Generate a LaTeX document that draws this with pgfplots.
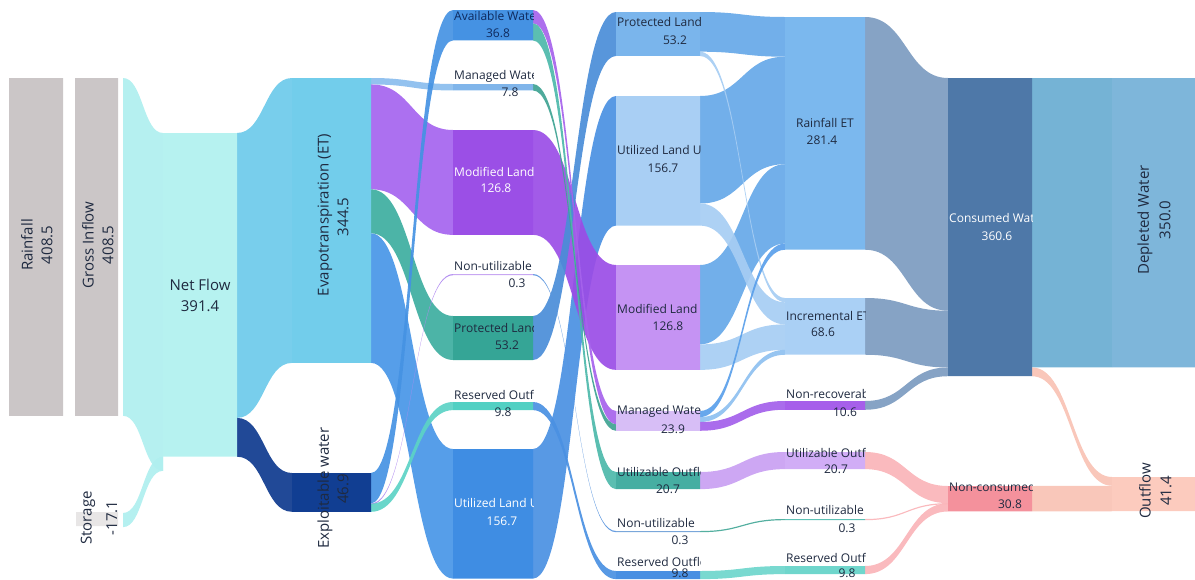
\documentclass[border=0pt]{standalone}
\usepackage{pgfplots}
\pgfplotsset{compat=1.18}
\usepackage{fontspec}
\setmainfont{Open Sans}

\definecolor{txt}{HTML}{1F2A40}
\definecolor{txtnavy}{HTML}{0E2A5E}
% nodes
\definecolor{ngray}{HTML}{CBC6C7}
\definecolor{nstor}{HTML}{E8E6E6}
\definecolor{nnet}{HTML}{B6F2F0}
\definecolor{net}{HTML}{72CDEB}
\definecolor{nex}{HTML}{113E92}
\definecolor{navail}{HTML}{4592E3}
\definecolor{nman}{HTML}{80B5EA}
\definecolor{nmod}{HTML}{9B4FE6}
\definecolor{nnu}{HTML}{C8A7F2}
\definecolor{nprot}{HTML}{35A596}
\definecolor{nres}{HTML}{52D0C3}
\definecolor{nutil}{HTML}{3F8DE3}
\definecolor{nprotb}{HTML}{7AB5EC}
\definecolor{nutilb}{HTML}{A9CFF4}
\definecolor{nmodb}{HTML}{C593F3}
\definecolor{nmanb}{HTML}{D7BEF6}
\definecolor{nutlb}{HTML}{46AEA2}
\definecolor{nnub}{HTML}{7AA7DA}
\definecolor{nresb}{HTML}{4A90E2}
\definecolor{nret}{HTML}{7BB8EE}
\definecolor{ninc}{HTML}{AAD0F5}
\definecolor{nnonrec}{HTML}{A65FEA}
\definecolor{nutlc}{HTML}{D1ADF6}
\definecolor{nnuc}{HTML}{5DC2B6}
\definecolor{nresc}{HTML}{6FD6CC}
\definecolor{ncons}{HTML}{4E78A8}
\definecolor{nncons}{HTML}{F4919C}
\definecolor{ndepl}{HTML}{7EB6DA}
\definecolor{nout}{HTML}{FCCBBE}
% bands
\definecolor{bcyan}{HTML}{AFEFEF}
\definecolor{bet}{HTML}{6CCAEA}
\definecolor{bex}{HTML}{0E3A8E}
\definecolor{bman}{HTML}{8ABDEE}
\definecolor{bmod}{HTML}{A564EF}
\definecolor{bprot}{HTML}{3DAE9F}
\definecolor{butil}{HTML}{4896E7}
\definecolor{bavail}{HTML}{4592E3}
\definecolor{bnu}{HTML}{B08AF0}
\definecolor{bres}{HTML}{5CD3C6}
\definecolor{bavman}{HTML}{A663EC}
\definecolor{bavutl}{HTML}{4DB8AA}
\definecolor{bmanman}{HTML}{3FA393}
\definecolor{bmodb}{HTML}{9A4DE6}
\definecolor{bnub}{HTML}{5A95DE}
\definecolor{bprotb}{HTML}{4A8DD8}
\definecolor{bresb}{HTML}{4A90E2}
\definecolor{butilb}{HTML}{4A90E2}
\definecolor{bret}{HTML}{66A8E8}
\definecolor{binc}{HTML}{A6CDF3}
\definecolor{bmanret}{HTML}{5A9FEA}
\definecolor{bmaninc}{HTML}{8EC0F0}
\definecolor{bnonrec}{HTML}{A35FEA}
\definecolor{butlc}{HTML}{C9A0F2}
\definecolor{bnuc}{HTML}{45A898}
\definecolor{bresc}{HTML}{6ED6CC}
\definecolor{bcons}{HTML}{7C9BC0}
\definecolor{bncons}{HTML}{FAB4B8}
\definecolor{bdepl}{HTML}{69ACD1}
\definecolor{bout}{HTML}{F9C2B4}

% px per unit of water
\newcommand{\kk}{0.827}
% \flow{x0}{ytop0}{x1}{ytop1}{value}{colour}
\newcommand{\flow}[6]{%
  \pgfmathsetmacro\fth{max(#5*\kk,1.2)}%
  \pgfmathsetmacro\fa{#2+\fth}%
  \pgfmathsetmacro\fb{#4+\fth}%
  \pgfmathsetmacro\fm{(#1+#3)/2}%
  \edef\doflow{\noexpand\fill[#6,fill opacity=0.92] (axis cs:#1,#2) .. controls (axis cs:\fm,#2) and (axis cs:\fm,#4) .. (axis cs:#3,#4) -- (axis cs:#3,\fb) .. controls (axis cs:\fm,\fb) and (axis cs:\fm,\fa) .. (axis cs:#1,\fa) -- cycle;}%
  \doflow}
% \snode{x0}{x1}{ytop}{value}{colour}
\newcommand{\snode}[5]{%
  \pgfmathsetmacro\na{#3+max(#4*\kk,1.2)}%
  \edef\donode{\noexpand\addplot[fill=#5,draw=none,forget plot] coordinates {(#1,#3) (#2,#3) (#2,\na) (#1,\na) (#1,#3)};}%
  \donode}

\tikzset{big/.style={font=\fontsize{15}{18}\selectfont, text=txt, inner sep=0pt},
         sm/.style={font=\fontsize{12}{14}\selectfont, text=txt, inner sep=0pt}}

\begin{document}
\begin{tikzpicture}
\begin{axis}[name=ax, width=1195pt, height=579pt, scale only axis,
  xmin=0, xmax=1195, ymin=0, ymax=579, y dir=reverse, hide axis, clip=false]
% ---- flows ----
\flow{123}{78}{163}{133}{408.5}{bcyan}
\flow{163}{456.7}{123}{513}{17.1}{bcyan}
\flow{237}{133}{292}{78}{344.5}{bet}
\flow{237}{417.9}{292}{473}{46.9}{bex}
% ET / Exploitable -> column 5
\flow{371}{78}{453}{84}{7.8}{bman}
\flow{371}{84.45}{453}{130}{126.8}{bmod}
\flow{371}{189.31}{453}{316}{53.2}{bprot}
\flow{371}{233.31}{453}{449}{156.7}{butil}
\flow{371}{473}{453}{10}{36.8}{bavail}
\flow{371}{503.43}{453}{274}{0.3}{bnu}
\flow{371}{503.68}{453}{402}{9.8}{bres}
% column 5 -> column 6
\flow{533}{449}{616}{96}{156.7}{butilb}
\flow{533}{130}{616}{265}{126.8}{bmodb}
\flow{533}{316}{616}{12}{53.2}{bprotb}
\flow{533}{10}{616}{411}{16.1}{bavman}
\flow{533}{23.31}{616}{472}{20.7}{bavutl}
\flow{533}{84}{616}{424.31}{7.8}{bmanman}
\flow{533}{274}{616}{531}{0.3}{bnub}
\flow{533}{402}{616}{571}{9.8}{bresb}
% column 6 -> column 7
\flow{700}{12}{785}{17}{48.0}{bret}
\flow{700}{96}{785}{56.70}{130.0}{bret}
\flow{700}{265}{785}{164.21}{96.0}{bret}
\flow{700}{51.70}{785}{298}{5.2}{binc}
\flow{700}{203.51}{785}{302.30}{26.7}{binc}
\flow{700}{344.39}{785}{324.38}{30.8}{binc}
\flow{700}{411}{785}{243.60}{7.4}{bmanret}
\flow{700}{417.12}{785}{349.85}{5.9}{bmaninc}
\flow{700}{422.0}{785}{401}{10.6}{bnonrec}
\flow{700}{472}{785}{452}{20.7}{butlc}
\flow{700}{531}{785}{519}{0.3}{bnuc}
\flow{700}{571}{785}{566}{9.8}{bresc}
% column 7 -> column 8
\flow{865}{17}{948}{78}{281.4}{bcons}
\flow{865}{298}{948}{310.72}{68.6}{bcons}
\flow{865}{401}{948}{367.45}{10.6}{bcons}
\flow{865}{452}{948}{486}{20.7}{bncons}
\flow{865}{519}{948}{503.12}{0.3}{bncons}
\flow{865}{566}{948}{503.37}{9.8}{bncons}
% column 8 -> column 9
\flow{1032}{78}{1112}{78}{350.0}{bdepl}
\flow{1032}{367.45}{1112}{477}{10.6}{bout}
\flow{1032}{486}{1112}{485.77}{30.8}{bout}
% ---- nodes ----
\snode{9}{63}{78}{408.5}{ngray}
\snode{75}{118}{78}{408.5}{ngray}
\snode{76}{118}{512}{17.1}{nstor}
\snode{163}{237}{133}{391.4}{nnet}
\snode{292}{371}{78}{344.5}{net}
\snode{292}{371}{473}{46.9}{nex}
\snode{453}{533}{10}{36.8}{navail}
\snode{453}{533}{84}{7.8}{nman}
\snode{453}{533}{130}{126.8}{nmod}
\snode{453}{533}{274}{0.3}{nnu}
\snode{453}{533}{316}{53.2}{nprot}
\snode{453}{533}{402}{9.8}{nres}
\snode{453}{533}{449}{156.7}{nutil}
\snode{616}{700}{12}{53.2}{nprotb}
\snode{616}{700}{96}{156.7}{nutilb}
\snode{616}{700}{265}{126.8}{nmodb}
\snode{616}{700}{411}{23.9}{nmanb}
\snode{616}{700}{472}{20.7}{nutlb}
\snode{616}{700}{531}{0.3}{nnub}
\snode{616}{700}{571}{9.8}{nresb}
\snode{785}{865}{17}{281.4}{nret}
\snode{785}{865}{298}{68.6}{ninc}
\snode{785}{865}{401}{10.6}{nnonrec}
\snode{785}{865}{452}{20.7}{nutlc}
\snode{785}{865}{519}{0.3}{nnuc}
\snode{785}{865}{566}{9.8}{nresc}
\snode{948}{1032}{78}{360.6}{ncons}
\snode{948}{1032}{486}{30.8}{nncons}
\snode{1112}{1195}{78}{350.0}{ndepl}
\snode{1112}{1195}{477}{41.4}{nout}
\end{axis}

\begin{scope}[shift={(ax.north west)}, x=1pt, y=-1pt]
% rotated / large labels
\node[big, rotate=90] at (27,245) {Rainfall};
\node[big, rotate=90] at (47,245) {408.5};
\node[big, rotate=90] at (88,245) {Gross Inflow};
\node[big, rotate=90] at (108,245) {408.5};
\node[big, rotate=90] at (88,518) {Storage};
\node[big, rotate=90] at (112,518) {-17.1};
\node[big] at (200,285) {Net Flow};
\node[big] at (200,306) {391.4};
\node[big, rotate=90] at (325,215) {Evapotranspiration (ET)};
\node[big, rotate=90] at (343,217) {344.5};
\node[big, rotate=90] at (325,488) {Exploitable water};
\node[big, rotate=90] at (343,489) {46.9};
\node[big, rotate=90] at (1145,220) {Depleted Water};
\node[big, rotate=90] at (1165,220) {350.0};
\node[big, rotate=90] at (1145,491) {Outflow};
\node[big, rotate=90] at (1166,491) {41.4};
% column 5
\begin{scope}
\clip (453,0) rectangle (533,579);
\node[sm, anchor=west, text=txtnavy] at (454,16) {Available Water};
\node[sm, anchor=west] at (454,76) {Managed Water};
\node[sm, anchor=west, text=white] at (454,172) {Modified Land Use};
\node[sm, anchor=west] at (454,266) {Non-utilizable};
\node[sm, anchor=west] at (454,328) {Protected Land Use};
\node[sm, anchor=west] at (454,395) {Reserved Outflows};
\node[sm, anchor=west, text=white] at (454,503) {Utilized Land Use};
\end{scope}
\node[sm, text=txtnavy] at (498,33) {36.8};
\node[sm] at (510,92) {7.8};
\node[sm, text=white] at (496,188) {126.8};
\node[sm] at (517,283) {0.3};
\node[sm] at (507,345) {53.2};
\node[sm] at (503,412) {9.8};
\node[sm, text=white] at (502,521) {156.7};
% column 6
\begin{scope}
\clip (616,0) rectangle (700,579);
\node[sm, anchor=west] at (617,22) {Protected Land Use};
\node[sm, anchor=west] at (617,150) {Utilized Land Use};
\node[sm, anchor=west] at (617,309) {Modified Land};
\node[sm, anchor=west] at (617,411) {Managed Water Use};
\node[sm, anchor=west] at (617,472) {Utilizable Outflow};
\node[sm, anchor=west] at (617,523) {Non-utilizable};
\node[sm, anchor=west] at (617,562) {Reserved Outflow};
\end{scope}
\node[sm] at (675,40) {53.2};
\node[sm] at (663,168) {156.7};
\node[sm] at (668,326) {126.8};
\node[sm] at (673,429) {23.9};
\node[sm] at (668,489) {20.7};
\node[sm] at (680,540) {0.3};
\node[sm] at (680,573) {9.8};
% column 7
\begin{scope}
\clip (785,0) rectangle (865,579);
\node[sm] at (825,123) {Rainfall ET};
\node[sm, anchor=west] at (786,316) {Incremental ET};
\node[sm, anchor=west] at (786,394) {Non-recoverable};
\node[sm, anchor=west] at (786,453) {Utilizable Outflow};
\node[sm, anchor=west] at (786,510) {Non-utilizable};
\node[sm, anchor=west] at (786,558) {Reserved Outflow};
\end{scope}
\node[sm] at (822,140) {281.4};
\node[sm] at (823,332) {68.6};
\node[sm] at (845,412) {10.6};
\node[sm] at (836,469) {20.7};
\node[sm] at (847,528) {0.3};
\node[sm] at (847,573) {9.8};
% column 8
\begin{scope}
\clip (948,0) rectangle (1032,579);
\node[sm, anchor=west, text=white] at (949,218) {Consumed Water};
\node[sm, anchor=west] at (949,487) {Non-consumed};
\end{scope}
\node[sm, text=white] at (997,236) {360.6};
\node[sm] at (1010,504) {30.8};
\end{scope}

\pgfresetboundingbox
\path[use as bounding box] (ax.south west) rectangle (ax.north east);
\end{tikzpicture}
\end{document}
